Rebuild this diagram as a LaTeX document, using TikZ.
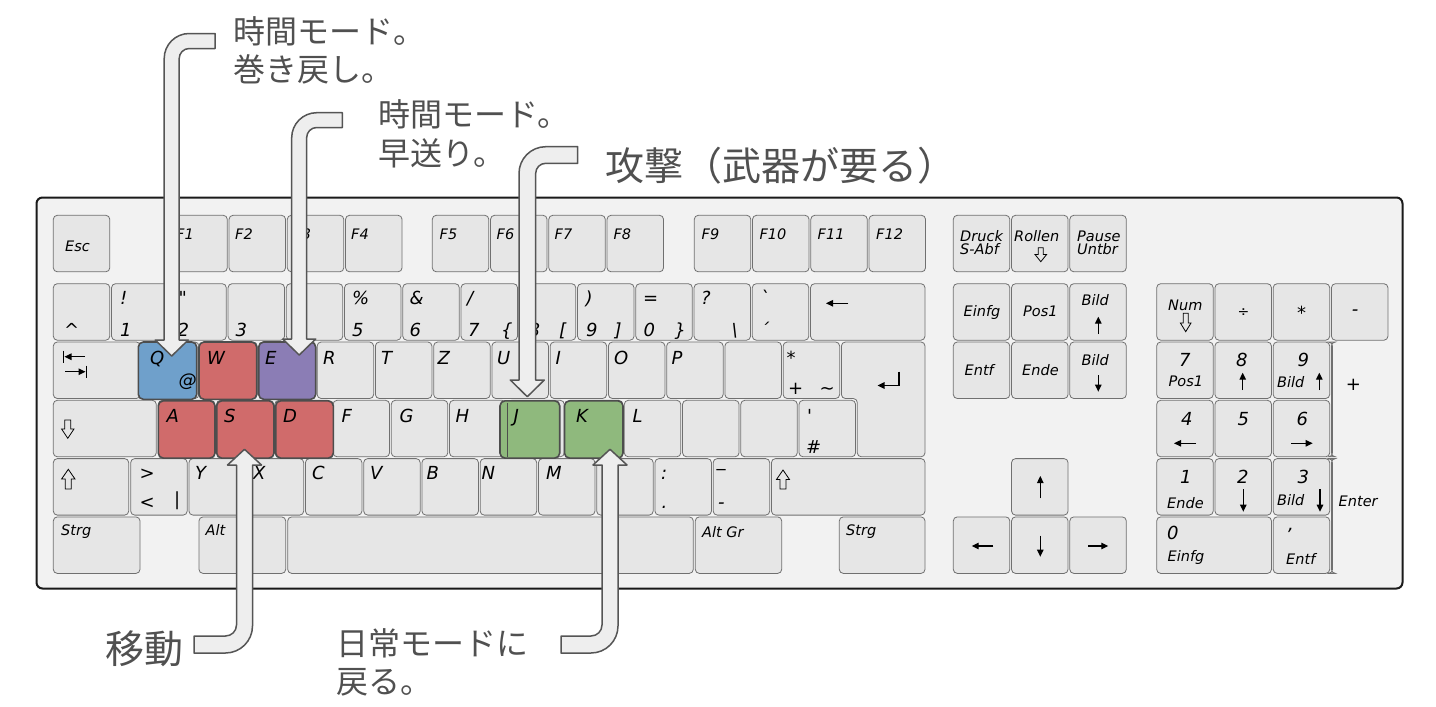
\documentclass[tikz,border=0pt]{standalone}
\usepackage{fontspec}
\usetikzlibrary{arrows.meta}
\newfontfamily\keyfont{DejaVu Sans}
\newfontfamily\jpfont{Noto Sans CJK JP}
\definecolor{kbbg}{HTML}{F2F2F2}
\definecolor{kbframe}{HTML}{1A1A1A}
\definecolor{keyfill}{HTML}{E6E6E6}
\definecolor{keyline}{HTML}{707070}
\definecolor{hlline}{HTML}{4D4D4D}
\definecolor{qblue}{HTML}{6FA0CB}
\definecolor{wred}{HTML}{D06B6B}
\definecolor{epurple}{HTML}{8B7DB5}
\definecolor{jgreen}{HTML}{8FB97D}
\definecolor{callfill}{HTML}{EEEEEE}
\definecolor{callline}{HTML}{555555}
\definecolor{jptext}{HTML}{505050}
\newcommand{\kbk}[4][56.5]{\node[kbkey,minimum width=#1] (#2) at (#3,#4) {};}
\tikzset{
  kbkey/.style={draw=keyline, fill=keyfill, line width=0.8pt, rounded corners=4pt,
    minimum height=56.5pt, inner sep=0pt, outer sep=0pt, anchor=north west},
  keypath/.style={draw=keyline, fill=keyfill, line width=0.8pt, rounded corners=4pt},
  hlkey/.style={draw=hlline, line width=1.6pt, rounded corners=5pt, inner sep=0pt,
    outer sep=0pt, anchor=north west, minimum height=57.3pt},
  ks/.style={inner sep=0pt, anchor=base west, font=\keyfont\itshape\fontsize{14.5}{14.5}\selectfont},
  kb/.style={inner sep=0pt, anchor=base west, font=\keyfont\itshape\fontsize{18}{18}\selectfont},
  kc/.style={inner sep=0pt, anchor=center, font=\keyfont\itshape\fontsize{18}{18}\selectfont},
  ksc/.style={inner sep=0pt, anchor=center, font=\keyfont\fontsize{14}{14}\selectfont},
  symar/.style={line width=1.2pt, -{Triangle[length=7pt,width=6.5pt]}},
  symbar/.style={line width=1.2pt},
  hollow/.style={draw=black, line width=0.8pt, line join=miter},
  callout/.style={draw=callline, fill=callfill, line width=1.5pt, line join=round},
  jp/.style={inner sep=0pt, anchor=base west, text=jptext, font=\jpfont\fontsize{32}{38}\selectfont},
  jpl/.style={inner sep=0pt, anchor=base west, text=jptext, font=\jpfont\fontsize{39}{46}\selectfont}
}
\begin{document}
\begin{tikzpicture}[x=1pt,y=-1pt]
\fill[white] (0,0) rectangle (1436,707);
\useasboundingbox (0,0) rectangle (1436,707);
% keyboard frame
\draw[draw=kbframe, fill=kbbg, line width=2pt, rounded corners=6pt] (36.5,197.5) rectangle (1402.5,588.5);
% function row
\kbk{esc}{53.3}{215.3}
\kbk{f1}{170.8}{215.3}\kbk{f2}{229.05}{215.3}\kbk{f3}{287.3}{215.3}\kbk{f4}{345.55}{215.3}
\kbk{f5}{432.3}{215.3}\kbk{f6}{490.55}{215.3}\kbk{f7}{548.8}{215.3}\kbk{f8}{607.05}{215.3}
\kbk{f9}{694.3}{215.3}\kbk{f10}{752.55}{215.3}\kbk{f11}{810.8}{215.3}\kbk{f12}{869.05}{215.3}
\kbk{druck}{953.3}{215.3}\kbk{rollen}{1011.55}{215.3}\kbk{pause}{1069.8}{215.3}
% number row
\kbk{kcirc}{53.3}{283.7}\kbk{k1}{111.55}{283.7}\kbk{k2}{169.8}{283.7}\kbk{k3}{228.05}{283.7}
\kbk{k4}{286.3}{283.7}\kbk{k5}{344.55}{283.7}\kbk{k6}{402.8}{283.7}\kbk{k7}{461.05}{283.7}
\kbk{k8}{519.3}{283.7}\kbk{k9}{577.55}{283.7}\kbk{k0}{635.8}{283.7}\kbk{kss}{694.05}{283.7}
\kbk{kacc}{752.3}{283.7}\kbk[114.45]{kback}{810.55}{283.7}
\kbk{einfg}{953.3}{283.7}\kbk{pos1}{1011.55}{283.7}\kbk{bildup}{1069.8}{283.7}
\kbk{num}{1156.7}{283.7}\kbk{ndiv}{1214.95}{283.7}\kbk{nmul}{1273.2}{283.7}\kbk{nmin}{1331.45}{283.7}
% row 2
\kbk[87.1]{tab}{53.3}{342}
\kbk{kq}{142.4}{342}\kbk{kw}{200.65}{342}\kbk{ke}{258.9}{342}\kbk{kr}{317.15}{342}
\kbk{kt}{375.4}{342}\kbk{kz}{433.65}{342}\kbk{ku}{491.9}{342}\kbk{ki}{550.15}{342}
\kbk{ko}{608.4}{342}\kbk{kp}{666.65}{342}\kbk{kue}{724.9}{342}\kbk{kplus}{783.15}{342}
\draw[keypath] (841.4,342) -- (925,342) -- (925,456.8) -- (857.3,456.8) -- (857.3,398.5) -- (841.4,398.5) -- cycle;
\kbk{entf}{953.3}{342}\kbk{ende}{1011.55}{342}\kbk{bilddn}{1069.8}{342}
\kbk{n7}{1156.7}{342}\kbk{n8}{1214.95}{342}\kbk{n9}{1273.2}{342}
\node[kbkey,minimum height=114.8pt] (nplus) at (1331.45,342) {};
% row 3
\kbk[103]{caps}{53.3}{400.3}
\kbk{ka}{158.3}{400.3}\kbk{ks}{216.55}{400.3}\kbk{kd}{274.8}{400.3}\kbk{kf}{333.05}{400.3}
\kbk{kg}{391.3}{400.3}\kbk{kh}{449.55}{400.3}\kbk{kj}{507.8}{400.3}\kbk{kk}{566.05}{400.3}
\kbk{kl}{624.3}{400.3}\kbk{koe}{682.55}{400.3}\kbk{kae}{740.8}{400.3}\kbk{khash}{799.05}{400.3}
\kbk{n4}{1156.7}{400.3}\kbk{n5}{1214.95}{400.3}\kbk{n6}{1273.2}{400.3}
% row 4
\kbk[75.4]{lshift}{53.3}{458.6}
\kbk{klt}{130.7}{458.6}\kbk{ky}{188.95}{458.6}\kbk{kx}{247.2}{458.6}\kbk{kc}{305.45}{458.6}
\kbk{kv}{363.7}{458.6}\kbk{kb}{421.95}{458.6}\kbk{kn}{480.2}{458.6}\kbk{km}{538.45}{458.6}
\kbk{kcomma}{596.7}{458.6}\kbk{kdot}{654.95}{458.6}\kbk{kminus}{713.2}{458.6}
\kbk[153.55]{rshift}{771.45}{458.6}
\kbk{aup}{1011.55}{458.6}
\kbk{n1}{1156.7}{458.6}\kbk{n2}{1214.95}{458.6}\kbk{n3}{1273.2}{458.6}
\node[kbkey,minimum height=114.8pt] (nenter) at (1331.45,458.6) {};
% row 5
\kbk[86.7]{lstrg}{53.3}{516.9}\kbk[86.7]{alt}{199}{516.9}\kbk[405.6]{space}{287.7}{516.9}
\kbk[86.4]{altgr}{695.3}{516.9}\kbk[85.7]{rstrg}{839.3}{516.9}
\kbk{aleft}{953.3}{516.9}\kbk{adown}{1011.55}{516.9}\kbk{aright}{1069.8}{516.9}
\kbk[114.75]{n0}{1156.7}{516.9}\kbk{ndec}{1273.2}{516.9}
% highlighted keys
\node[hlkey,fill=qblue,minimum width=58.4pt] (hq) at (138.3,342) {};
\node[hlkey,fill=wred,minimum width=57.7pt] (hw) at (199,342) {};
\node[hlkey,fill=epurple,minimum width=57pt] (he) at (258.7,342) {};
\node[hlkey,fill=wred,minimum width=56.7pt] (ha) at (158.3,400.8) {};
\node[hlkey,fill=wred,minimum width=57.3pt] (hs) at (216.7,400.8) {};
\node[hlkey,fill=wred,minimum width=57.6pt] (hd) at (275.7,400.8) {};
\node[hlkey,fill=jgreen,minimum width=59.7pt] (hj) at (500,400.8) {};
\node[hlkey,fill=jgreen,minimum width=58.5pt] (hk) at (564.5,400.8) {};
\draw[hlline,line width=0.8pt] (507.3,402.5) -- (507.3,456.5);
% labels: function row
\node[ks] (tesc) at (65,251.5) {Esc};
\node[ks] (tf1) at (176,239.3) {F1};
\node[ks] (tf2) at (235,239.3) {F2};
\node[ks] (tf3) at (293.3,239.3) {F3};
\node[ks] (tf4) at (351,239.3) {F4};
\node[ks] (tf5) at (439.5,239.3) {F5};
\node[ks] (tf6) at (496.5,239.3) {F6};
\node[ks] (tf7) at (554.5,239.3) {F7};
\node[ks] (tf8) at (613.3,239.3) {F8};
\node[ks] (tf9) at (701.5,239.3) {F9};
\node[ks] (tf10) at (759.3,239.3) {F10};
\node[ks] (tf11) at (817.5,239.3) {F11};
\node[ks] (tf12) at (876,239.3) {F12};
\node[ks] (tdr1) at (960,241.5) {Druck};
\node[ks] (tdr2) at (960,254) {S-Abf};
\node[ks] (trol) at (1014,241.5) {Rollen};
\node[ks] (tpa1) at (1077,241.5) {Pause};
\node[ks] (tpa2) at (1077,254) {Untbr};
% number row
\node[kb] (tcirc) at (64,336.5) {\textasciicircum};
\node[kb] (t1a) at (120,304.5) {!};
\node[kb] (t1b) at (119.8,336.5) {1};
\node[kb] (t2a) at (178.3,304.5) {"};
\node[kb] (t2b) at (177.5,336.5) {2};
\node[kb] (t3b) at (235.5,336.5) {3};
\node[kb] (t5a) at (352,304.5) {\%};
\node[kb] (t5b) at (352,336.5) {5};
\node[kb] (t6a) at (409.5,304.5) {\&};
\node[kb] (t6b) at (409.5,336.5) {6};
\node[kb] (t7a) at (467,304.5) {/};
\node[kb] (t7b) at (468,336.5) {7};
\node[kb] (t7c) at (501,336.5) {\{};
\node[kb] (t8b) at (528.3,336.5) {8};
\node[kb] (t8c) at (559,336.5) {[};
\node[kb] (t9a) at (585.5,304.5) {)};
\node[kb] (t9b) at (586,336.5) {9};
\node[kb] (t9c) at (614.5,336.5) {]};
\node[kb] (t0a) at (643,304.5) {=};
\node[kb] (t0b) at (643.5,336.5) {0};
\node[kb] (t0c) at (674.5,336.5) {\}};
\node[kb] (tssa) at (701,304.5) {?};
\node[kb] (tssc) at (731.5,336.5) {\textbackslash};
\node[kb] (tacca) at (760,304.5) {\textasciigrave};
\node[kb] (taccb) at (760,336.5) {\textasciiacute};
\draw[symar] (848.3,303.3) -- (826,303.3);
\node[ks] (tein) at (963.5,316) {Einfg};
\node[ks] (tpos) at (1023,316) {Pos1};
\node[ks] (tbu) at (1081.5,305) {Bild};
\draw[symar] (1098.3,334) -- (1098.3,316.7);
\node[ks] (tnum) at (1168,310) {Num};
\node[ksc] (tdiv) at (1243.5,313) {÷};
\node[kc] (tmul) at (1301.5,313) {*};
\node[kc] (tmin) at (1355,313) {-};
% row 2
\draw[symar] (85,356.7) -- (64.5,356.7);
\draw[symbar] (63.5,350.5) -- (63.5,363);
\draw[symar] (65,371.7) -- (85.5,371.7);
\draw[symbar] (86.7,365.5) -- (86.7,378);
\node[kb] (tq) at (150,364.5) {Q};
\node[kb] (tat) at (178.5,386.5) {@};
\node[kb] (tw) at (207,364.5) {W};
\node[kb] (te) at (265,364.5) {E};
\node[kb] (tr) at (323,364.5) {R};
\node[kb] (tt) at (381,364.5) {T};
\node[kb] (tz) at (437.5,364.5) {Z};
\node[kb] (tu) at (497,364.5) {U};
\node[kb] (ti) at (555.5,364.5) {I};
\node[kb] (to) at (614,364.5) {O};
\node[kb] (tp) at (671.5,364.5) {P};
\node[kb] (tpla) at (786.5,364.5) {*};
\node[kb] (tplb) at (788,394.5) {+};
\node[kb] (tplc) at (819.5,394.5) {\textasciitilde};
\draw[symar] (899,371.7) -- (899,385.5) -- (877.5,385.5);
\node[ks] (tentf) at (964.5,375.5) {Entf};
\node[ks] (tende) at (1022,375.5) {Ende};
\node[ks] (tbd) at (1081.5,365) {Bild};
\draw[symar] (1098.3,375) -- (1098.3,391.7);
\node[kb] (tn7) at (1179,366.5) {7};
\node[ks] (tn7b) at (1168.5,386.5) {Pos1};
\node[kb] (tn8) at (1236,366.5) {8};
\draw[symar] (1242.7,390) -- (1242.7,372.7);
\node[kb] (tn9) at (1297.5,366.5) {9};
\node[ks] (tn9b) at (1277,387) {Bild};
\draw[symar] (1319.3,390) -- (1319.3,372.7);
\node[kc] (tnplus) at (1353.5,385) {+};
% row 3
\draw[hollow] (64.8,420) -- (70.8,420) -- (70.8,429) -- (74,429) -- (67.8,438.3) -- (61.6,429) -- (64.8,429) -- cycle;
\node[kb] (ta) at (166.5,422) {A};
\node[kb] (tsk) at (224,422) {S};
\node[kb] (td) at (283,422) {D};
\node[kb] (tf) at (341.5,422) {F};
\node[kb] (tg) at (399.5,422) {G};
\node[kb] (th) at (455.5,422) {H};
\node[kb] (tj) at (513.5,422) {J};
\node[kb] (tk) at (576,422) {K};
\node[kb] (tl) at (632.5,422) {L};
\node[kb] (thsa) at (807,422) {\textquotesingle};
\node[kb] (thsb) at (806,453.3) {\#};
\node[kb] (tn4) at (1181,425) {4};
\draw[symar] (1196,443.3) -- (1174,443.3);
\node[kb] (tn5) at (1237.5,425) {5};
\node[kb] (tn6) at (1296.5,425) {6};
\draw[symar] (1291,443.3) -- (1312.7,443.3);
% row 4
\draw[hollow] (68.3,469.3) -- (75,479) -- (71.3,479) -- (71.3,489) -- (65.3,489) -- (65.3,479) -- (61.6,479) -- cycle;
\node[kb] (tgt) at (139.5,479.5) {\textgreater};
\node[kb] (tlt) at (139.5,508.5) {\textless};
\node[kb] (tbar) at (174,505) {\textbar};
\node[kb] (ty) at (195,479.5) {Y};
\node[kb] (tx) at (253,479.5) {X};
\node[kb] (tc) at (312,479.5) {C};
\node[kb] (tv) at (370,479.5) {V};
\node[kb] (tb) at (426.5,479.5) {B};
\node[kb] (tn) at (481.5,479.5) {N};
\node[kb] (tm) at (546,479.5) {M};
\node[kb] (tdta) at (661,479.5) {:};
\node[kb] (tdtb) at (661.5,508.5) {.};
\node[kb] (tmia) at (716.5,466) {\_};
\node[kb] (tmib) at (718,508.5) {-};
\draw[hollow] (783,470) -- (789.5,479.5) -- (786,479.5) -- (786,489) -- (780,489) -- (780,479.5) -- (776.5,479.5) -- cycle;
\draw[symar] (1040.3,498.3) -- (1040.3,476);
\node[kb] (tn1) at (1180,483.3) {1};
\node[ks] (tn1b) at (1167,508.3) {Ende};
\node[kb] (tn2) at (1237,483.3) {2};
\draw[symar] (1243.3,489.3) -- (1243.3,511.7);
\node[kb] (tn3) at (1297.5,483.3) {3};
\node[ks] (tn3b) at (1277,505) {Bild};
\draw[symar] (1320,489.3) -- (1320,511.7);
\node[ks] (tnent) at (1338.5,506.5) {Enter};
% row 5
\node[ks] (tls) at (61,535) {Strg};
\node[ks] (talt) at (205.5,535) {Alt};
\node[ks] (taltgr) at (702,537) {Alt Gr};
\node[ks] (trs) at (846,535) {Strg};
\draw[symar] (993.3,546) -- (971.7,546);
\draw[symar] (1040.3,535.7) -- (1040.3,556.7);
\draw[symar] (1088.3,546) -- (1108.3,546);
\node[kb] (tn0) at (1167,539) {0};
\node[ks] (tn0b) at (1167.5,561) {Einfg};
\node[kb] (tndc) at (1288,530) {,};
\node[ks] (tndcb) at (1286,564) {Entf};
% hollow arrows
\draw[hollow] (1038.3,247.7) -- (1043.3,247.7) -- (1043.3,254.5) -- (1046.6,254.5) -- (1040.8,261.7) -- (1035,254.5) -- (1038.3,254.5) -- cycle;
\draw[hollow] (1183.2,313.3) -- (1188.2,313.3) -- (1188.2,323) -- (1191,323) -- (1185.7,331.7) -- (1180.4,323) -- (1183.2,323) -- cycle;
% callout arrows
\draw[callout] (215,33.5) -- (189.2,33.5) .. controls +(-13.8,0) and +(0,-13.8) .. (164.2,58.5)
  -- (164.2,340) -- (155.2,340) -- (171.7,356) -- (188.2,340) -- (179.2,340)
  -- (179.2,58.5) .. controls +(0,-5.5) and +(-5.5,0) .. (189.2,48.5) -- (215,48.5) -- cycle;
\draw[callout] (342.3,112.7) -- (316.7,112.7) .. controls +(-13.8,0) and +(0,-13.8) .. (291.7,137.7)
  -- (291.7,339) -- (282.7,339) -- (299.2,355) -- (315.7,339) -- (306.7,339)
  -- (306.7,137.5) .. controls +(0,-5.5) and +(-5.5,0) .. (316.7,127.5) -- (342.3,127.5) -- cycle;
\draw[callout] (577.7,146.7) -- (545.7,146.7) .. controls +(-14.7,0) and +(0,-14.7) .. (519,173.4)
  -- (519,380) -- (510.3,380) -- (527.3,396.7) -- (544.3,380) -- (535.7,380)
  -- (535.7,173.3) .. controls +(0,-5.5) and +(-5.5,0) .. (545.7,163.3) -- (577.7,163.3) -- cycle;
\draw[callout] (244.5,449.3) -- (261.5,465) -- (252.5,465) -- (252.5,626)
  .. controls +(0,14.9) and +(14.9,0) .. (225.5,653) -- (194,653) -- (194,636) -- (225.5,636)
  .. controls +(6.1,0) and +(0,6.1) .. (236.5,625) -- (236.5,465) -- (227.5,465) -- cycle;
\draw[callout] (610,449.3) -- (627,465) -- (618,465) -- (618,626)
  .. controls +(0,14.9) and +(14.9,0) .. (591,653) -- (561,653) -- (561,636) -- (591,636)
  .. controls +(6.1,0) and +(0,6.1) .. (602,625) -- (602,465) -- (593,465) -- cycle;
% Japanese captions
\node[jp] (c1a) at (233.5,43) {時間モード。};
\node[jp] (c1b) at (233.5,81.5) {巻き戻し。};
\node[jp] (c2a) at (377.8,126.5) {時間モード。};
\node[jp] (c2b) at (377.8,165) {早送り。};
\node[jpl] (c3) at (605.7,180.5) {攻撃（武器が要る）};
\node[jpl] (c4) at (104.8,663) {移動};
\node[jp] (c5a) at (336.5,655) {日常モードに};
\node[jp] (c5b) at (336.5,693.5) {戻る。};
\end{tikzpicture}
\end{document}
